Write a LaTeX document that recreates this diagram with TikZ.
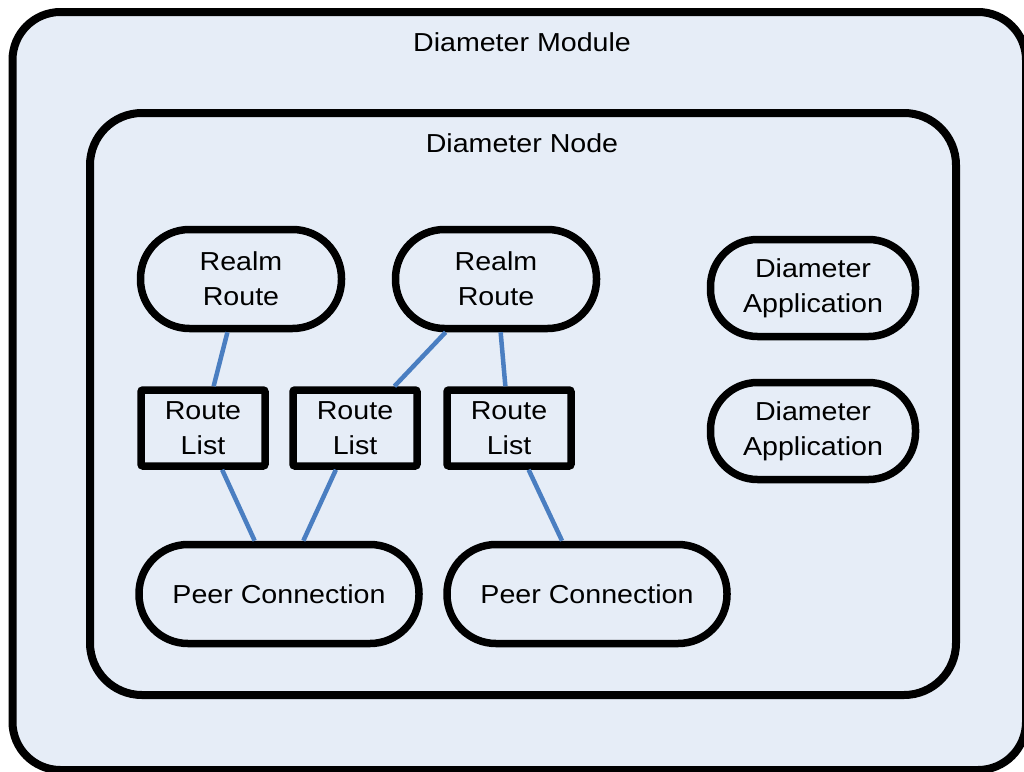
\documentclass[tikz,border=0pt]{standalone}
\usepackage{fontspec}
\setmainfont{Liberation Sans}[FakeStretch=1.1]
\definecolor{bgfill}{RGB}{230,237,247}
\definecolor{linkblue}{RGB}{74,126,193}
\begin{document}
\begin{tikzpicture}[x=1pt,y=-1pt,
  every node/.style={font=\fontsize{26}{35}\selectfont, align=center, text=black},
  frame/.style={draw=black, line width=7.5pt, fill=bgfill},
  pill/.style={frame, rectangle, rounded corners=49pt, inner sep=0pt},
  realm/.style={pill, minimum width=201pt, minimum height=99pt},
  peer/.style={pill, minimum width=280pt, minimum height=99pt},
  app/.style={pill, minimum width=205pt, minimum height=97pt, rounded corners=47pt},
  rlist/.style={frame, rectangle, rounded corners=2pt, minimum width=124pt, minimum height=76pt, inner sep=0pt},
  link/.style={draw=linkblue, line width=4.5pt}
]
\useasboundingbox (0,0) rectangle (1024,771);
\fill[white] (0,0) rectangle (1024,771);
% outer module box
\draw[frame, line width=8pt, rounded corners=48pt] (12.5,12) rectangle (1026,770);
\node (module) at (522,42) {Diameter Module};
% inner node box
\draw[frame, line width=8pt, rounded corners=52pt] (90,113) rectangle (956,695);
\node (dnode) at (522,143) {Diameter Node};
% node centres
\coordinate (crr1) at (241,279);
\coordinate (crr2) at (496,279);
\coordinate (crl1) at (203,428);
\coordinate (crl2) at (355,428);
\coordinate (crl3) at (509,428);
\coordinate (cpc1) at (279,594);
\coordinate (cpc2) at (587,594);
% nodes
\node[realm] (rr1) at (crr1) {Realm\\Route};
\node[realm] (rr2) at (crr2) {Realm\\Route};
\node[rlist] (rl1) at (crl1) {Route\\List};
\node[rlist] (rl2) at (crl2) {Route\\List};
\node[rlist] (rl3) at (crl3) {Route\\List};
\node[peer] (pc1) at (cpc1) {Peer Connection};
\node[peer] (pc2) at (cpc2) {Peer Connection};
\node[app] (da1) at (813,288) {Diameter\\Application};
\node[app] (da2) at (813,431) {Diameter\\Application};
% links
\draw[link] (rr1) -- (rl1);
\draw[link] (rr2) -- (rl2);
\draw[link] (rr2) -- (rl3);
\draw[link] (rl1) -- (pc1);
\draw[link] (rl2) -- (pc1);
\draw[link] (rl3) -- (pc2);
\end{tikzpicture}
\end{document}
